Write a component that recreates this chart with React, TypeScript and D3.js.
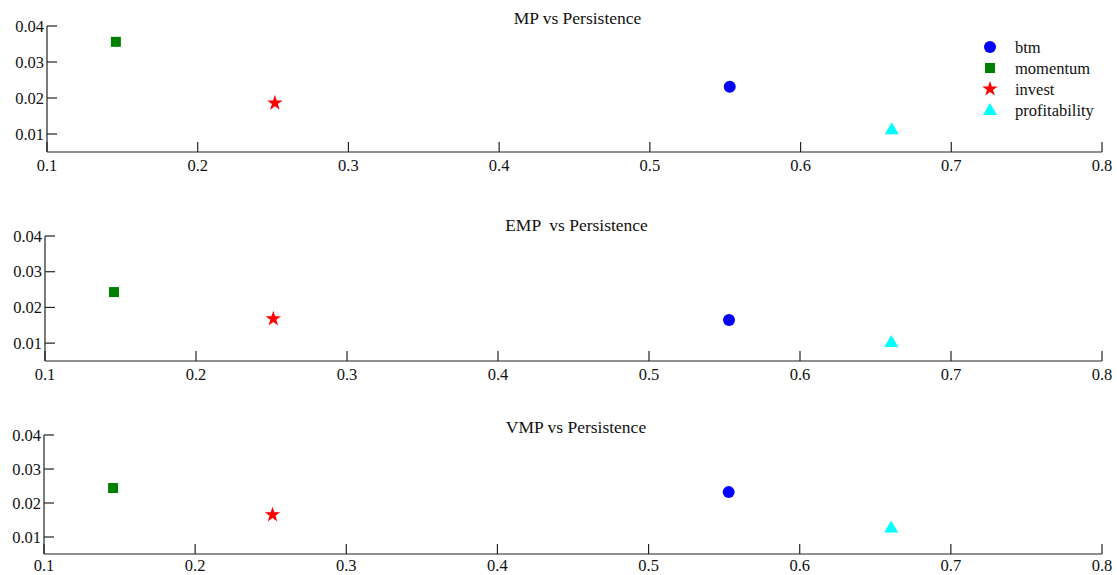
import React from "react";
import * as d3 from "d3";

const seriesNames = ["btm", "momentum", "invest", "profitability"];
const seriesColors = ["#0000ff", "#008000", "#ff0000", "#00ffff"];
const panelTitles = ["MP vs Persistence", "EMP  vs Persistence", "VMP vs Persistence"];
// persistence (x) per series
const persistence = [0.553, 0.1457, 0.2512, 0.6605];
// premium (y) per panel, per series [btm, momentum, invest, profitability]
const mpValues = [0.0231, 0.0356, 0.0186, 0.0113];
const empValues = [0.0165, 0.0243, 0.0168, 0.0103];
const vmpValues = [0.0232, 0.0244, 0.0165, 0.0128];
const xTicks = [0.1, 0.2, 0.3, 0.4, 0.5, 0.6, 0.7, 0.8];
const yTicks = [0.01, 0.02, 0.03, 0.04];

const panelValues = [mpValues, empValues, vmpValues];
const panels = [
  { left: 47, right: 1102, top: 26, bottom: 152, titleY: 24 },
  { left: 45, right: 1102, top: 236, bottom: 361, titleY: 231 },
  { left: 44, right: 1102, top: 435, bottom: 554, titleY: 433 },
];

const FONT = "'Liberation Serif', 'Times New Roman', serif";

function Marker({ kind, x, y, color }: { kind: number; x: number; y: number; color: string }) {
  if (kind === 0) return <circle cx={x} cy={y} r={6} fill={color} />;
  if (kind === 1) return <rect x={x - 5} y={y - 5} width={10} height={10} fill={color} />;
  if (kind === 2) {
    const p = d3.symbol().type(d3.symbolStar).size(75)();
    return <path d={p || ""} transform={`translate(${x},${y})`} fill={color} />;
  }
  const p = d3.symbol().type(d3.symbolTriangle).size(85)();
  return <path d={p || ""} transform={`translate(${x},${y + 1})`} fill={color} />;
}

export default function App() {
  return (
    <svg width={1117} height={575} style={{ position: "absolute", left: 0, top: 0, background: "#fff" }}>
      {panels.map((pn, pi) => {
        const x = d3.scaleLinear().domain([0.1, 0.8]).range([pn.left, pn.right]);
        const y = d3.scaleLinear().domain([0.005, 0.04]).range([pn.bottom, pn.top]);
        const vals = panelValues[pi];
        const labelY = Math.min(pn.bottom + 19, 571);
        return (
          <g key={pi}>
            <text x={(pn.left + pn.right) / 2 + 3} y={pn.titleY} textAnchor="middle" fontFamily={FONT} fontSize={17.5} fill="#111" style={{ whiteSpace: "pre" }}>
              {panelTitles[pi]}
            </text>
            <line x1={pn.left} x2={pn.left} y1={y(0.04)} y2={pn.bottom} stroke="#222" strokeWidth={1.2} />
            <line x1={pn.left} x2={pn.right} y1={pn.bottom} y2={pn.bottom} stroke="#222" strokeWidth={1.2} />
            {yTicks.map((t) => (
              <g key={t}>
                <line x1={pn.left} x2={pn.left + 10} y1={y(t)} y2={y(t)} stroke="#222" strokeWidth={1.2} />
                <text x={pn.left - 3} y={y(t)} dy="0.35em" textAnchor="end" fontFamily={FONT} fontSize={16.5} fill="#111">
                  {d3.format(".2f")(t)}
                </text>
              </g>
            ))}
            {xTicks.map((t) => (
              <g key={t}>
                <line x1={x(t)} x2={x(t)} y1={pn.bottom} y2={pn.bottom - 10} stroke="#222" strokeWidth={1.2} />
                <text x={x(t)} y={labelY} textAnchor="middle" fontFamily={FONT} fontSize={16.5} fill="#111">
                  {d3.format(".1f")(t)}
                </text>
              </g>
            ))}
            {seriesNames.map((s, si) => (
              <Marker key={s} kind={si} x={x(persistence[si])} y={y(vals[si])} color={seriesColors[si]} />
            ))}
            {pi === 0 &&
              seriesNames.map((s, si) => (
                <g key={"lg" + s}>
                  <Marker kind={si} x={990} y={47 + si * 21} color={seriesColors[si]} />
                  <text x={1015} y={47 + si * 21} dy="0.35em" fontFamily={FONT} fontSize={16.5} fill="#111">
                    {s}
                  </text>
                </g>
              ))}
          </g>
        );
      })}
    </svg>
  );
}
